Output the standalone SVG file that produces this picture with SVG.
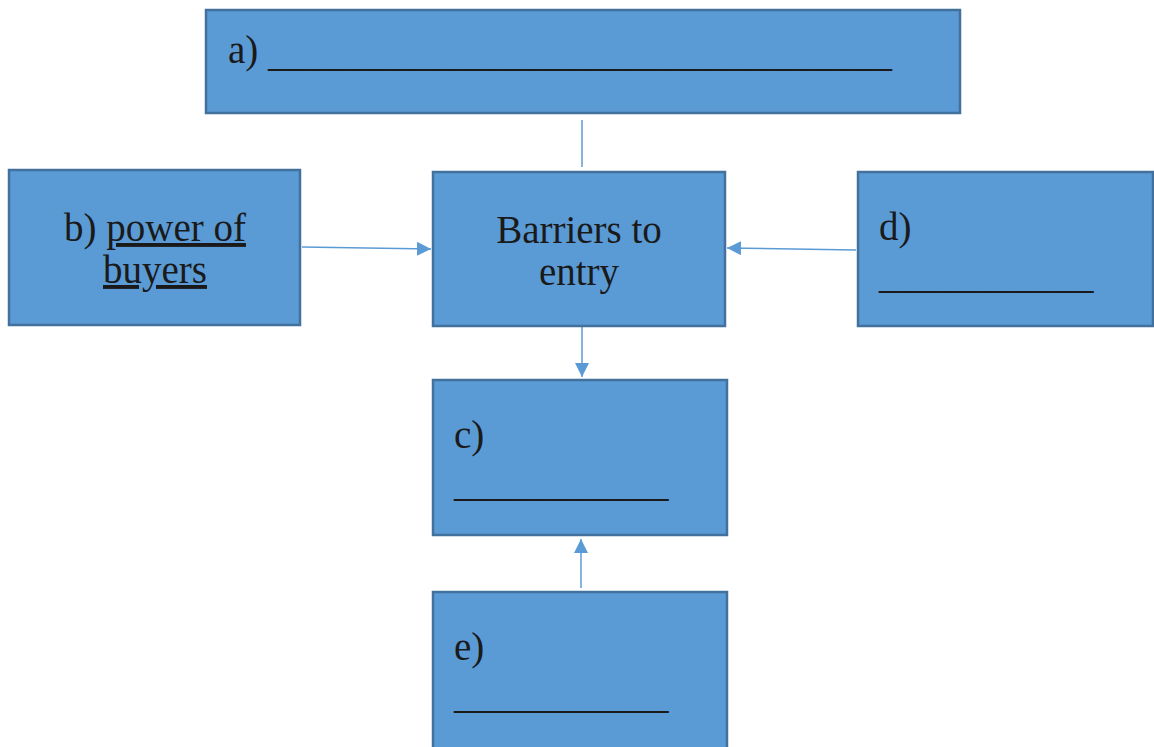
<svg xmlns="http://www.w3.org/2000/svg" width="1154" height="747" viewBox="0 0 1154 747">
  <defs>
    <marker id="arrow" viewBox="0 0 10 10" refX="10" refY="5" markerWidth="14" markerHeight="14" markerUnits="userSpaceOnUse" orient="auto">
      <path d="M0,0 L10,5 L0,10 Z" fill="#5b9bd5"/>
    </marker>
    <style>
      .box { fill: #5b9bd5; stroke: #41719c; stroke-width: 2.5; }
      .lbl { font-family: "Liberation Serif", "Times New Roman", serif; font-size: 39px; fill: #1a1a1a; }
      .mid { text-anchor: middle; }
      .conn { stroke: #5b9bd5; stroke-width: 1.5; fill: none; }
      .ul { text-decoration: underline; }
    </style>
  </defs>

  <!-- connectors -->
  <g id="connectors">
    <line class="conn" x1="582" y1="120" x2="582" y2="167"/>
    <line class="conn" x1="302" y1="247" x2="431" y2="249" marker-end="url(#arrow)"/>
    <line class="conn" x1="856" y1="250" x2="727" y2="248" marker-end="url(#arrow)"/>
    <line class="conn" x1="582" y1="327" x2="582" y2="377" marker-end="url(#arrow)"/>
    <line class="conn" x1="581" y1="588" x2="581" y2="539" marker-end="url(#arrow)"/>
  </g>

  <!-- a) top box -->
  <g id="node-a">
    <rect class="box" x="206" y="10" width="754" height="103"/>
    <text class="lbl" x="228" y="63">a) <tspan dy="3">________________________________</tspan></text>
  </g>

  <!-- b) power of buyers -->
  <g id="node-b">
    <rect class="box" x="9" y="170" width="291" height="155"/>
    <text class="lbl mid" x="155" y="241">b) <tspan class="ul">power of</tspan></text>
    <text class="lbl mid" x="155" y="283"><tspan class="ul">buyers</tspan></text>
  </g>

  <!-- central box -->
  <g id="node-barriers">
    <rect class="box" x="433" y="172" width="292" height="154"/>
    <text class="lbl mid" x="579" y="243">Barriers to</text>
    <text class="lbl mid" x="579" y="285">entry</text>
  </g>

  <!-- d) right box -->
  <g id="node-d">
    <rect class="box" x="858" y="172" width="295" height="154"/>
    <text class="lbl" x="879" y="240">d)</text>
    <text class="lbl" x="879" y="288">___________</text>
  </g>

  <!-- c) box -->
  <g id="node-c">
    <rect class="box" x="433" y="380" width="294" height="155"/>
    <text class="lbl" x="454" y="448">c)</text>
    <text class="lbl" x="454" y="496">___________</text>
  </g>

  <!-- e) bottom box -->
  <g id="node-e">
    <rect class="box" x="433" y="592" width="294" height="160"/>
    <text class="lbl" x="454" y="660">e)</text>
    <text class="lbl" x="454" y="708">___________</text>
  </g>
</svg>
